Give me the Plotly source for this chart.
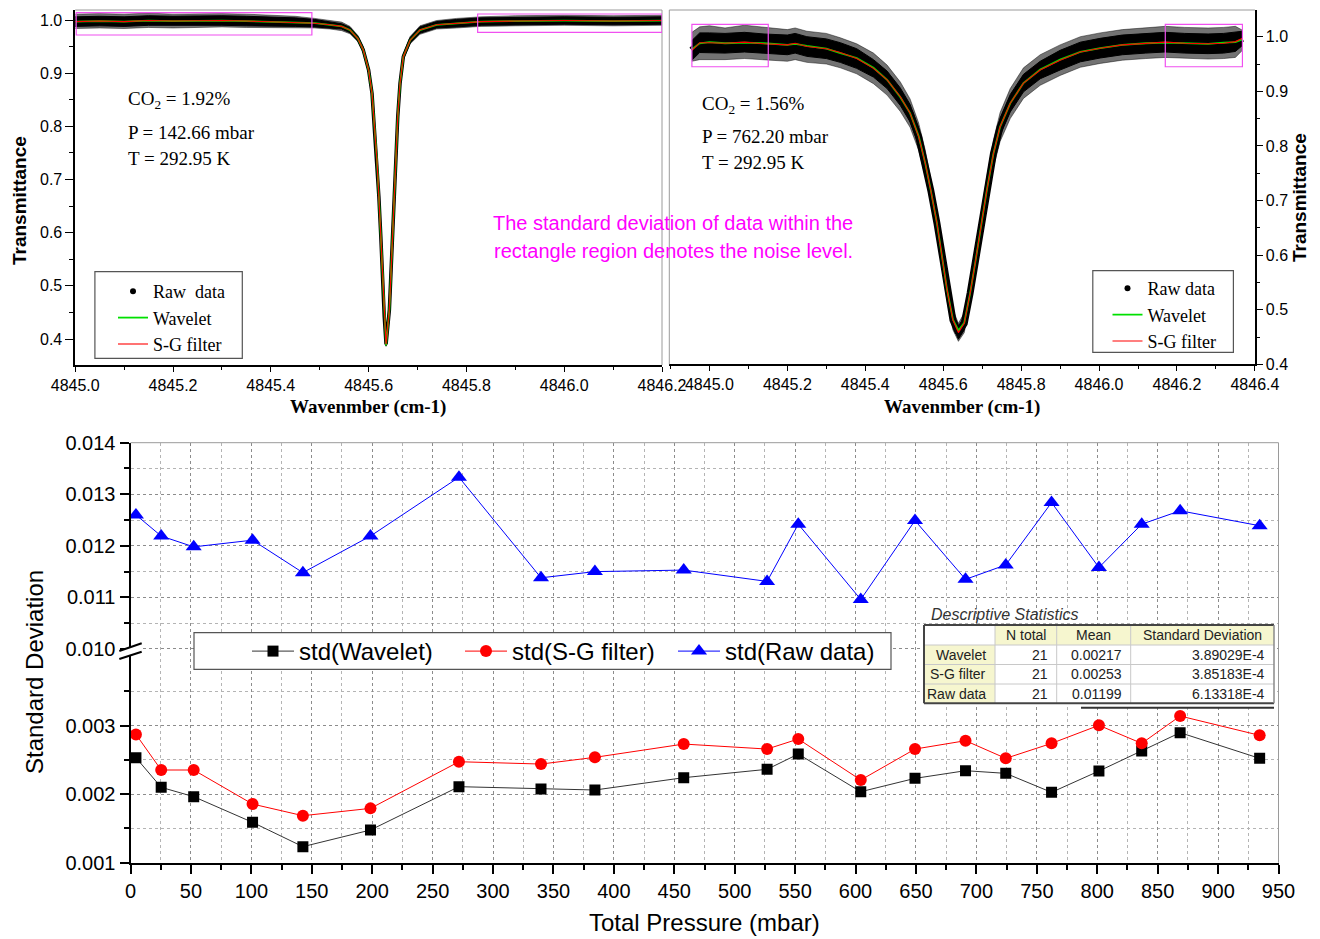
import plotly.graph_objects as go

W, H = 1320, 939


def px(x):
    return x / W


def py(y):
    return 1 - y / H


# ---------------- top-left panel (P = 142.66 mbar) ----------------
left_wn = [4845.00, 4845.05, 4845.10, 4845.15, 4845.20, 4845.25, 4845.30, 4845.35, 4845.40, 4845.45,
           4845.49, 4845.521, 4845.545, 4845.562, 4845.578, 4845.589, 4845.600, 4845.607, 4845.612,
           4845.617, 4845.621, 4845.625, 4845.628, 4845.632, 4845.6357, 4845.6425, 4845.646, 4845.6494,
           4845.6527, 4845.656, 4845.6596, 4845.6643, 4845.671, 4845.685, 4845.705, 4845.739, 4845.78,
           4845.83, 4845.90, 4846.00, 4846.10, 4846.20]
left_sg = [0.997, 0.998, 0.997, 0.999, 0.998, 0.999, 0.999, 0.998, 0.997, 0.996,
           0.994, 0.991, 0.988, 0.981, 0.965, 0.944, 0.906, 0.862, 0.800,
           0.737, 0.668, 0.592, 0.517, 0.442, 0.390, 0.455, 0.530, 0.605,
           0.680, 0.755, 0.818, 0.881, 0.931, 0.962, 0.981, 0.991, 0.994,
           0.997, 0.998, 0.999, 0.998, 0.999]
left_wavelet = [0.997, 0.998, 0.997, 0.999, 0.998, 0.999, 0.999, 0.998, 0.997, 0.996,
                0.994, 0.991, 0.988, 0.981, 0.965, 0.944, 0.906, 0.862, 0.800,
                0.737, 0.668, 0.592, 0.517, 0.442, 0.388, 0.455, 0.530, 0.605,
                0.680, 0.755, 0.818, 0.881, 0.931, 0.962, 0.981, 0.991, 0.994,
                0.997, 0.998, 0.999, 0.998, 0.999]
# raw-data cloud: extreme envelope and dense core envelope
left_raw_hi = [1.011, 1.012, 1.011, 1.013, 1.011, 1.012, 1.012, 1.011, 1.009, 1.007,
               1.003, 0.999, 0.996, 0.988, 0.971, 0.950, 0.911, 0.866, 0.804,
               0.741, 0.672, 0.596, 0.521, 0.446, 0.394, 0.459, 0.534, 0.609,
               0.684, 0.759, 0.822, 0.886, 0.937, 0.969, 0.989, 0.999, 1.003,
               1.006, 1.008, 1.009, 1.008, 1.009]
left_raw_lo = [0.984, 0.985, 0.984, 0.986, 0.985, 0.986, 0.987, 0.986, 0.985, 0.985,
               0.985, 0.983, 0.980, 0.974, 0.959, 0.938, 0.901, 0.858, 0.796,
               0.733, 0.664, 0.588, 0.513, 0.438, 0.386, 0.451, 0.526, 0.601,
               0.676, 0.751, 0.814, 0.876, 0.925, 0.955, 0.973, 0.983, 0.985,
               0.988, 0.989, 0.990, 0.989, 0.990]
left_dense_hi = [1.006, 1.007, 1.006, 1.008, 1.007, 1.008, 1.008, 1.007, 1.006, 1.004,
                 1.001, 0.997, 0.993, 0.986, 0.969, 0.948, 0.909, 0.865, 0.803,
                 0.740, 0.671, 0.595, 0.520, 0.445, 0.393, 0.458, 0.533, 0.608,
                 0.683, 0.758, 0.821, 0.884, 0.935, 0.967, 0.987, 0.997, 1.001,
                 1.004, 1.005, 1.006, 1.005, 1.006]
left_dense_lo = [0.988, 0.989, 0.988, 0.990, 0.989, 0.990, 0.990, 0.989, 0.988, 0.988,
                 0.987, 0.985, 0.983, 0.976, 0.961, 0.940, 0.903, 0.859, 0.797,
                 0.734, 0.665, 0.589, 0.514, 0.439, 0.387, 0.452, 0.527, 0.602,
                 0.677, 0.752, 0.815, 0.878, 0.927, 0.957, 0.975, 0.985, 0.987,
                 0.990, 0.991, 0.992, 0.991, 0.992]

# ---------------- top-right panel (P = 762.20 mbar) ----------------
right_wn = [4844.955, 4844.975, 4845.00, 4845.04, 4845.09, 4845.14, 4845.20, 4845.22, 4845.25, 4845.30,
            4845.336, 4845.378, 4845.421, 4845.456, 4845.490, 4845.515, 4845.537, 4845.554, 4845.568,
            4845.584, 4845.597, 4845.610, 4845.625, 4845.639, 4845.654, 4845.669, 4845.682, 4845.697,
            4845.712, 4845.729, 4845.746, 4845.772, 4845.806, 4845.849, 4845.900, 4845.952, 4846.003,
            4846.06, 4846.12, 4846.17, 4846.22, 4846.28, 4846.32, 4846.35, 4846.368]
right_sg = [0.975, 0.989, 0.989, 0.988, 0.990, 0.987, 0.985, 0.988, 0.982, 0.978,
            0.971, 0.960, 0.942, 0.921, 0.890, 0.860, 0.817, 0.768, 0.719,
            0.658, 0.597, 0.536, 0.481, 0.458, 0.475, 0.530, 0.585, 0.652,
            0.719, 0.786, 0.835, 0.878, 0.915, 0.939, 0.957, 0.972, 0.979,
            0.985, 0.988, 0.990, 0.988, 0.987, 0.988, 0.991, 0.997]
right_wavelet = [0.977, 0.988, 0.990, 0.988, 0.989, 0.988, 0.985, 0.987, 0.983, 0.978,
                 0.970, 0.961, 0.943, 0.921, 0.889, 0.860, 0.818, 0.768, 0.719,
                 0.658, 0.597, 0.536, 0.482, 0.462, 0.476, 0.530, 0.585, 0.652,
                 0.719, 0.786, 0.835, 0.878, 0.915, 0.940, 0.958, 0.972, 0.979,
                 0.985, 0.988, 0.989, 0.988, 0.987, 0.989, 0.990, 0.995]
right_raw_hi = [1.008, 1.018, 1.020, 1.016, 1.021, 1.017, 1.013, 1.016, 1.010, 1.006,
                0.998, 0.987, 0.970, 0.948, 0.917, 0.886, 0.842, 0.792, 0.742,
                0.680, 0.618, 0.556, 0.500, 0.475, 0.494, 0.551, 0.607, 0.675,
                0.743, 0.811, 0.861, 0.905, 0.943, 0.967, 0.985, 1.000, 1.007,
                1.013, 1.016, 1.019, 1.017, 1.016, 1.017, 1.019, 1.012]
right_raw_lo = [0.955, 0.958, 0.958, 0.958, 0.960, 0.957, 0.955, 0.958, 0.953, 0.950,
                0.943, 0.932, 0.914, 0.893, 0.863, 0.834, 0.792, 0.744, 0.696,
                0.636, 0.576, 0.516, 0.463, 0.442, 0.458, 0.510, 0.563, 0.629,
                0.695, 0.761, 0.808, 0.850, 0.887, 0.911, 0.929, 0.944, 0.951,
                0.957, 0.960, 0.962, 0.960, 0.959, 0.960, 0.962, 0.975]
right_dense_hi = [0.993, 1.007, 1.007, 1.006, 1.008, 1.005, 1.003, 1.006, 1.000, 0.996,
                  0.989, 0.978, 0.958, 0.937, 0.906, 0.876, 0.833, 0.780, 0.731,
                  0.670, 0.609, 0.548, 0.493, 0.470, 0.487, 0.542, 0.597, 0.664,
                  0.735, 0.802, 0.851, 0.894, 0.931, 0.955, 0.975, 0.990, 0.997,
                  1.003, 1.006, 1.008, 1.006, 1.005, 1.006, 1.009, 1.010]
right_dense_lo = [0.957, 0.971, 0.971, 0.970, 0.972, 0.969, 0.967, 0.970, 0.964, 0.960,
                  0.953, 0.942, 0.926, 0.905, 0.874, 0.844, 0.801, 0.756, 0.707,
                  0.646, 0.585, 0.524, 0.469, 0.446, 0.463, 0.518, 0.573, 0.640,
                  0.703, 0.770, 0.819, 0.862, 0.899, 0.923, 0.939, 0.954, 0.961,
                  0.967, 0.970, 0.972, 0.970, 0.969, 0.970, 0.973, 0.984]

# ---------------- bottom panel ----------------
pressure = [4.5, 25.4, 52.3, 101.0, 142.66, 198.6, 271.8, 339.7, 384.3, 457.8, 526.8,
            552.6, 604.3, 649.2, 691.0, 724.3, 762.2, 801.4, 836.8, 868.6, 934.4]
std_wavelet = [0.002533, 0.002100, 0.001964, 0.001589, 0.001234, 0.001477, 0.002110,
               0.002075, 0.002061, 0.002241, 0.002363, 0.002586, 0.002036, 0.002231,
               0.002343, 0.002304, 0.002027, 0.002338, 0.002630, 0.002898, 0.002523]
std_sg = [0.002873, 0.002353, 0.002353, 0.001856, 0.001686, 0.001793, 0.002474,
          0.002440, 0.002538, 0.002732, 0.002659, 0.002805, 0.002207, 0.002659,
          0.002781, 0.002523, 0.002742, 0.003005, 0.002742, 0.003141, 0.002859]
std_raw = [0.01260, 0.01219, 0.01198, 0.01211, 0.01148, 0.01219, 0.01333,
           0.01138, 0.01150, 0.01153, 0.01131, 0.01242, 0.01096, 0.01249,
           0.01135, 0.01163, 0.01284, 0.01158, 0.01242, 0.01268, 0.01239]

# descriptive statistics table content
stat_header = ["", "N total", "Mean", "Standard Deviation"]
stat_names = ["Wavelet", "S-G filter", "Raw data"]
stat_n = [21, 21, 21]
stat_mean = ["0.00217", "0.00253", "0.01199"]
stat_sd = ["3.89029E-4", "3.85183E-4", "6.13318E-4"]

SANS = "Liberation Sans"
SERIF = "Liberation Serif"
YEL = "#f6f6cf"

fig = go.Figure()


def add_spectrum(wn, hi, lo, dhi, dlo, wav, sg, xa, ya, core_w, leg, raw_name):
    mid = [(a + b) / 2 for a, b in zip(dhi, dlo)]
    fig.add_trace(go.Scatter(x=wn + wn[::-1], y=hi + lo[::-1], fill="toself",
                             fillcolor="rgba(0,0,0,0.55)", mode="lines",
                             line=dict(color="rgba(0,0,0,0.45)", width=1), showlegend=False,
                             hoverinfo="skip", xaxis=xa, yaxis=ya))
    fig.add_trace(go.Scatter(x=wn + wn[::-1], y=dhi + dlo[::-1], fill="toself", fillcolor="black",
                             mode="lines", line=dict(color="black", width=1), showlegend=False,
                             hoverinfo="skip", xaxis=xa, yaxis=ya))
    fig.add_trace(go.Scatter(x=wn, y=mid, mode="lines", line=dict(color="black", width=core_w),
                             showlegend=False, hoverinfo="skip", xaxis=xa, yaxis=ya))
    fig.add_trace(go.Scatter(x=[None], y=[None], mode="markers", marker=dict(color="black", size=6),
                             name=raw_name, legend=leg, xaxis=xa, yaxis=ya))
    fig.add_trace(go.Scatter(x=wn, y=wav, mode="lines", line=dict(color="#00e000", width=1.8),
                             name="Wavelet", legend=leg, xaxis=xa, yaxis=ya))
    fig.add_trace(go.Scatter(x=wn, y=sg, mode="lines", line=dict(color="#ff0000", width=1.1),
                             name="S-G filter", legend=leg, xaxis=xa, yaxis=ya))


add_spectrum(left_wn, left_raw_hi, left_raw_lo, left_dense_hi, left_dense_lo, left_wavelet, left_sg,
             "x", "y", 3.5, "legend", "Raw\u00a0 data")
add_spectrum(right_wn, right_raw_hi, right_raw_lo, right_dense_hi, right_dense_lo, right_wavelet,
             right_sg, "x2", "y2", 7, "legend2", "Raw data")

# bottom traces
fig.add_trace(go.Scatter(x=pressure, y=std_wavelet, mode="lines+markers", name="std(Wavelet)",
                         line=dict(color="#333333", width=1),
                         marker=dict(symbol="square", size=11, color="black"),
                         legend="legend3", xaxis="x3", yaxis="y4"))
fig.add_trace(go.Scatter(x=pressure, y=std_sg, mode="lines+markers", name="std(S-G filter)",
                         line=dict(color="#ff0000", width=1),
                         marker=dict(symbol="circle", size=12, color="#ff0000"),
                         legend="legend3", xaxis="x3", yaxis="y4"))
fig.add_trace(go.Scatter(x=pressure, y=std_raw, mode="lines+markers", name="std(Raw data)",
                         line=dict(color="#0000ff", width=1),
                         marker=dict(symbol="triangle-up", size=14, color="#0000ff"),
                         legend="legend3", xaxis="x3", yaxis="y3"))

tick_top = dict(family=SANS, size=16, color="black")
common = dict(showgrid=False, zeroline=False, showline=True, linecolor="black", ticks="outside",
              tickcolor="black")

grid_major = dict(showgrid=True, gridcolor="#8c8c8c", griddash="dot", gridwidth=1)
minor_grid = dict(ticks="outside", ticklen=5, tickcolor="black", showgrid=True,
                  gridcolor="#b4b4b4", griddash="dot", gridwidth=1)
tick_bot = dict(family=SANS, size=20, color="black")

fig.update_layout(
    width=W, height=H, margin=dict(l=0, r=0, t=0, b=0, autoexpand=False),
    paper_bgcolor="white", plot_bgcolor="white",
    xaxis=dict(**common, domain=[px(75.2), px(662)], range=[4845.0, 4846.2], anchor="y",
               tick0=4845.0, dtick=0.2, tickformat=".1f", ticklen=5, linewidth=1.5,
               tickfont=tick_top,
               minor=dict(dtick=0.1, ticks="outside", ticklen=3, tickcolor="black")),
    yaxis=dict(**common, domain=[py(365), py(10)], range=[0.3511, 1.0188], anchor="x",
               tick0=0, dtick=0.1, tickformat=".1f", ticklen=8, linewidth=1.5, tickfont=tick_top,
               minor=dict(dtick=0.05, ticks="outside", ticklen=4, tickcolor="black")),
    xaxis2=dict(**common, domain=[px(669.3), px(1254.9)], range=[4844.897, 4846.4], anchor="y2",
                tick0=4845.0, dtick=0.2, tickformat=".1f", ticklen=5, linewidth=1.5,
                tickfont=tick_top,
                minor=dict(tick0=4845.0, dtick=0.1, ticks="outside", ticklen=3, tickcolor="black")),
    yaxis2=dict(**common, domain=[py(364.3), py(10)], range=[0.4, 1.0489], anchor="x2", side="right",
                tick0=0, dtick=0.1, tickformat=".1f", ticklen=6, linewidth=1.5, tickfont=tick_top,
                minor=dict(dtick=0.05, ticks="outside", ticklen=3, tickcolor="black")),
    xaxis3=dict(zeroline=False, showline=True, linecolor="black", linewidth=2, ticks="outside",
                tickcolor="black", domain=[px(130.5), px(1278.5)], range=[0, 950], anchor="y4",
                dtick=50, ticklen=9, tickwidth=1.5, tickfont=tick_bot, **grid_major,
                minor=dict(dtick=25, **minor_grid)),
    yaxis3=dict(zeroline=False, showline=True, linecolor="black", linewidth=2, ticks="outside",
                tickcolor="black", domain=[py(653), py(442.7)], range=[0.009922, 0.014], anchor="x3",
                tick0=0.010, dtick=0.001, tickformat=".3f", ticklen=9, tickwidth=1.5,
                tickfont=tick_bot, **grid_major,
                minor=dict(dtick=0.0005, **minor_grid)),
    yaxis4=dict(zeroline=False, showline=True, linecolor="black", linewidth=2, ticks="outside",
                tickcolor="black", domain=[py(862.7), py(653)], range=[0.001, 0.004061], anchor="x3",
                tickmode="array", tickvals=[0.001, 0.002, 0.003], tickformat=".3f", ticklen=9,
                tickwidth=1.5, tickfont=tick_bot, **grid_major,
                minor=dict(tickmode="array", tickvals=[0.0015, 0.0025, 0.0035], **minor_grid)),
    legend=dict(x=px(113), y=py(273), xanchor="left", yanchor="top", bgcolor="rgba(0,0,0,0)",
                borderwidth=0, font=dict(family=SERIF, size=18, color="black"), tracegroupgap=0),
    legend2=dict(x=px(1107.5), y=py(270), xanchor="left", yanchor="top", bgcolor="rgba(0,0,0,0)",
                 borderwidth=0, font=dict(family=SERIF, size=18, color="black"), tracegroupgap=0),
    legend3=dict(x=px(247), y=py(629), xanchor="left", yanchor="top", orientation="h",
                 bgcolor="rgba(0,0,0,0)", borderwidth=0, itemwidth=42, entrywidth=156,
                 font=dict(family=SANS, size=24, color="black")),
)

shapes = []
grey = dict(color="#9a9a9a", width=1)
shapes += [
    dict(type="line", xref="paper", yref="paper", x0=px(75.2), x1=px(662), y0=py(10), y1=py(10), line=grey),
    dict(type="line", xref="paper", yref="paper", x0=px(662), x1=px(662), y0=py(10), y1=py(365), line=grey),
    dict(type="line", xref="paper", yref="paper", x0=px(669.3), x1=px(1254.9), y0=py(10), y1=py(10), line=grey),
    dict(type="line", xref="paper", yref="paper", x0=px(669.3), x1=px(669.3), y0=py(10), y1=py(364.3), line=grey),
    dict(type="line", xref="paper", yref="paper", x0=px(130.5), x1=px(1278.5), y0=py(442.7), y1=py(442.7), line=grey),
    dict(type="line", xref="paper", yref="paper", x0=px(1278.5), x1=px(1278.5), y0=py(442.7), y1=py(862.7), line=grey),
]
pink = dict(color="#f050f0", width=1.2)
shapes += [
    dict(type="rect", xref="x", yref="y", x0=4845.002, x1=4845.484, y0=0.9718, y1=1.0138, line=pink),
    dict(type="rect", xref="x", yref="y", x0=4845.823, x1=4846.2, y0=0.9768, y1=1.0113, line=pink),
    dict(type="rect", xref="x2", yref="y2", x0=4844.955, x1=4845.151, y0=0.945, y1=1.0226, line=pink),
    dict(type="rect", xref="x2", yref="y2", x0=4846.17, x1=4846.368, y0=0.945, y1=1.0226, line=pink),
]
shapes += [
    dict(type="rect", xref="paper", yref="paper", x0=px(94.9), x1=px(242.3), y0=py(358.3), y1=py(271.7),
         fillcolor="white", line=dict(color="#555", width=1.2), layer="above"),
    dict(type="rect", xref="paper", yref="paper", x0=px(1092.8), x1=px(1233.4), y0=py(352.3), y1=py(270.7),
         fillcolor="white", line=dict(color="#555", width=1.2), layer="above"),
    dict(type="rect", xref="paper", yref="paper", x0=px(194), x1=px(891), y0=py(669.3), y1=py(632.7),
         fillcolor="white", line=dict(color="#555", width=1.2), layer="above"),
]

# ---- descriptive statistics table (cells as shapes, text as annotations) ----
col_x = [924, 995, 1056.7, 1130.7, 1274]
row_y = [625, 645, 664.5, 684, 703.3]


def cell(x0, x1, y0, y1, color):
    return dict(type="rect", xref="paper", yref="paper", x0=px(x0), x1=px(x1), y0=py(y1), y1=py(y0),
                fillcolor=color, line=dict(width=0), layer="above")


shapes.append(cell(col_x[0], col_x[-1], row_y[0], row_y[-1], "white"))
for j in range(1, 4):
    shapes.append(cell(col_x[j], col_x[j + 1], row_y[0], row_y[1], YEL))
for i in range(1, 4):
    shapes.append(cell(col_x[0], col_x[1], row_y[i], row_y[i + 1], YEL))
light = dict(color="#c8c8c8", width=1)
for xv in col_x[1:-1]:
    shapes.append(dict(type="line", xref="paper", yref="paper", x0=px(xv), x1=px(xv),
                       y0=py(row_y[0]), y1=py(row_y[-1]), line=light, layer="above"))
for yv in row_y[1:-1]:
    shapes.append(dict(type="line", xref="paper", yref="paper", x0=px(col_x[0]), x1=px(col_x[-1]),
                       y0=py(yv), y1=py(yv), line=light, layer="above"))
dark = dict(color="#444", width=2)
shapes += [
    dict(type="line", xref="paper", yref="paper", x0=px(924), x1=px(1274), y0=py(625), y1=py(625), line=dark, layer="above"),
    dict(type="line", xref="paper", yref="paper", x0=px(924), x1=px(1274), y0=py(703.3), y1=py(703.3), line=dark, layer="above"),
    dict(type="line", xref="paper", yref="paper", x0=px(924), x1=px(924), y0=py(625), y1=py(703.3), line=dark, layer="above"),
    dict(type="line", xref="paper", yref="paper", x0=px(1274), x1=px(1274), y0=py(625), y1=py(703.3),
         line=dict(color="#8a8a8a", width=1.5), layer="above"),
    dict(type="line", xref="paper", yref="paper", x0=px(1081), x1=px(1274), y0=py(707.7), y1=py(707.7),
         line=dict(color="#333", width=2), layer="above"),
]

bx0, bx1 = px(119.3), px(141.7)
shapes += [
    dict(type="path", xref="paper", yref="paper",
         path=f"M{bx0},{py(651)} L{bx1},{py(643.3)} L{bx1},{py(651.7)} L{bx0},{py(659)} Z",
         fillcolor="white", line=dict(color="white", width=0), layer="above"),
    dict(type="line", xref="paper", yref="paper", x0=bx0, x1=bx1, y0=py(651), y1=py(643.3),
         line=dict(color="black", width=2), layer="above"),
    dict(type="line", xref="paper", yref="paper", x0=bx0, x1=bx1, y0=py(659), y1=py(651.7),
         line=dict(color="black", width=2), layer="above"),
]
fig.update_layout(shapes=shapes)


def ann(text, x, y, size, family=SANS, color="black", xanchor="left", angle=0):
    return dict(text=text, x=px(x), y=py(y), xref="paper", yref="paper", xanchor=xanchor,
                yanchor="middle", showarrow=False, textangle=angle,
                font=dict(family=family, size=size, color=color))


anns = [
    ann("CO<sub>2</sub> = 1.92%", 126, 100, 19, SERIF),
    ann("P = 142.66 mbar", 126, 132, 19, SERIF),
    ann("T = 292.95 K", 126, 158, 19, SERIF),
    ann("CO<sub>2</sub> = 1.56%", 700, 105, 19, SERIF),
    ann("P = 762.20 mbar", 700, 137, 19, SERIF),
    ann("T = 292.95 K", 700, 163, 19, SERIF),
    ann("The standard deviation of data within the", 673, 223, 20, SANS, "#ff00ff", "center"),
    ann("rectangle region denotes the noise level.", 673, 251, 20, SANS, "#ff00ff", "center"),
    ann("<b>Transmittance</b>", 19, 201, 19, SANS, angle=-90, xanchor="center"),
    ann("<b>Transmittance</b>", 1300, 198, 19, SANS, angle=-90, xanchor="center"),
    ann("<b>Wavenmber (cm-1)</b>", 368, 407, 19, SERIF, xanchor="center"),
    ann("<b>Wavenmber (cm-1)</b>", 962, 407, 19, SERIF, xanchor="center"),
    ann("Standard Deviation", 34, 672, 24, SANS, angle=-90, xanchor="center"),
    ann("Total Pressure (mbar)", 704, 922, 24, SANS, xanchor="center"),
    ann("<i>Descriptive Statistics</i>", 929, 614, 16, SANS, "#333"),
]
# table text
tfont = 14
for j in range(1, 4):
    anns.append(ann(stat_header[j], (col_x[j] + col_x[j + 1]) / 2, (row_y[0] + row_y[1]) / 2,
                    tfont, SANS, "#222", "center"))
for i in range(3):
    yc = (row_y[i + 1] + row_y[i + 2]) / 2
    row_vals = [stat_names[i], str(stat_n[i]), stat_mean[i], stat_sd[i]]
    for j, v in enumerate(row_vals):
        anns.append(ann(v, col_x[j + 1] - 7, yc, tfont, SANS, "#222", "right"))
fig.update_layout(annotations=anns)

fig.write_html("out.html")
